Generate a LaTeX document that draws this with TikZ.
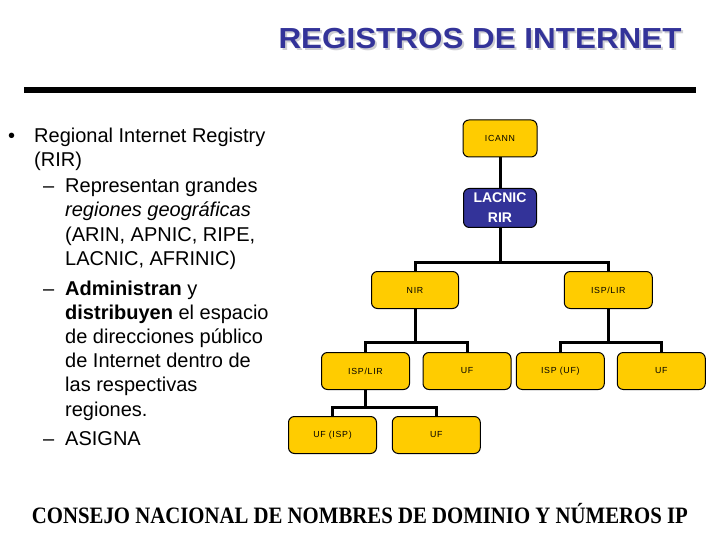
\documentclass[tikz,border=0pt]{standalone}
\usepackage{fontspec}
\usepackage{graphicx}
\setmainfont{Liberation Sans}
\newfontfamily\serifb{Liberation Serif}
\newfontfamily\boxfont[LetterSpace=8]{Liberation Sans}
\definecolor{titleblue}{RGB}{51,51,153}
\definecolor{boxgold}{RGB}{255,204,0}
\definecolor{rirblue}{RGB}{51,51,153}
\definecolor{shadowgray}{RGB}{205,205,210}
\begin{document}
\begin{tikzpicture}[x=1pt,y=-1pt,
  box/.style={draw=black, line width=1pt, rounded corners=6pt, fill=boxgold,
    minimum width=88pt, minimum height=37pt, inner sep=0pt,
    font=\boxfont\fontsize{8.8}{10}\selectfont},
  rirbox/.style={draw=black, line width=1pt, rounded corners=6pt, fill=rirblue,
    minimum width=73pt, minimum height=39pt, inner sep=0pt, text=white, align=center,
    font=\bfseries\fontsize{14}{20}\selectfont},
  conn/.style={line width=3pt, black},
  body/.style={anchor=base west, inner sep=0pt, font=\fontsize{20}{24}\selectfont}]
\useasboundingbox (0,0) rectangle (720,540);
\fill[white] (0,0) rectangle (720,540);

% title
\node[anchor=base west, inner sep=0pt, text=shadowgray, font=\bfseries\fontsize{29}{32}\selectfont] (titleshadow) at (280.3,50.3) {\resizebox{403pt}{\height}{REGISTROS DE INTERNET}};
\node[anchor=base west, inner sep=0pt, text=titleblue, font=\bfseries\fontsize{29}{32}\selectfont] (title) at (278.3,48.3) {\resizebox{403pt}{\height}{REGISTROS DE INTERNET}};

% bar
\fill[black] (24,87) rectangle (696,93);

% left text
\node[body] (b1) at (8,143) {•};
\node[body] (l1) at (34,143) {Regional Internet Registry};
\node[body] (l2) at (34,167) {(RIR)};
\node[body] (d1) at (43,193) {–};
\node[body] (l3) at (65,193) {Representan grandes};
\node[body] (l4) at (65,217) {\itshape regiones geográficas};
\node[body] (l5) at (65,241) {(ARIN, APNIC, RIPE,};
\node[body] (l6) at (65,265) {LACNIC, AFRINIC)};
\node[body] (d2) at (43,295) {–};
\node[body] (l7) at (65,295) {\bfseries Administran\mdseries{} y};
\node[body] (l8) at (65,319) {\bfseries distribuyen\mdseries{} el espacio};
\node[body] (l9) at (65,343) {de direcciones público};
\node[body] (l10) at (65,367) {de Internet dentro de};
\node[body] (l11) at (65,391) {las respectivas};
\node[body] (l12) at (65,416) {regiones.};
\node[body] (d3) at (43,445) {–};
\node[body] (l13) at (65,445) {ASIGNA};

% tree
\coordinate (j1) at (500,262.7);
\coordinate (j2) at (415,342.7);
\coordinate (j3) at (608.3,342.7);
\coordinate (j4) at (365.5,407.3);

\node[box, minimum width=74pt] (icann) at (500,138.5) {ICANN};
\node[rirbox] (lacnic) at (500,208) {LACNIC\\RIR};
\node[box, minimum width=87pt] (nir) at (415,290) {NIR};
\node[box] (isplira) at (608.3,290) {ISP/LIR};
\node[box] (isplirb) at (365.5,371) {ISP/LIR};
\node[box] (ufa) at (467,371) {UF};
\node[box] (ispuf) at (560.3,371) {ISP (UF)};
\node[box] (ufb) at (661.3,371) {UF};
\node[box] (ufisp) at (332.5,435) {UF (ISP)};
\node[box] (ufc) at (436.3,435) {UF};

\draw[conn] (icann) -- (lacnic);
\draw[conn] (lacnic.south) -- (j1);
\draw[conn] (nir.north) |- (j1) -| (isplira.north);
\draw[conn] (nir.south) -- (j2);
\draw[conn] (isplirb.north) |- (j2) -| (ufa.north);
\draw[conn] (isplira.south) -- (j3);
\draw[conn] (ispuf.north) |- (j3) -| (ufb.north);
\draw[conn] (isplirb.south) -- (j4);
\draw[conn] (ufisp.north) |- (j4) -| (ufc.north);

% footer
\node[anchor=base west, inner sep=0pt, font=\serifb\bfseries\fontsize{23.5}{24}\selectfont] (footer) at (31.7,523) {\resizebox{656pt}{\height}{CONSEJO NACIONAL DE NOMBRES DE DOMINIO Y NÚMEROS IP}};
\end{tikzpicture}
\end{document}
